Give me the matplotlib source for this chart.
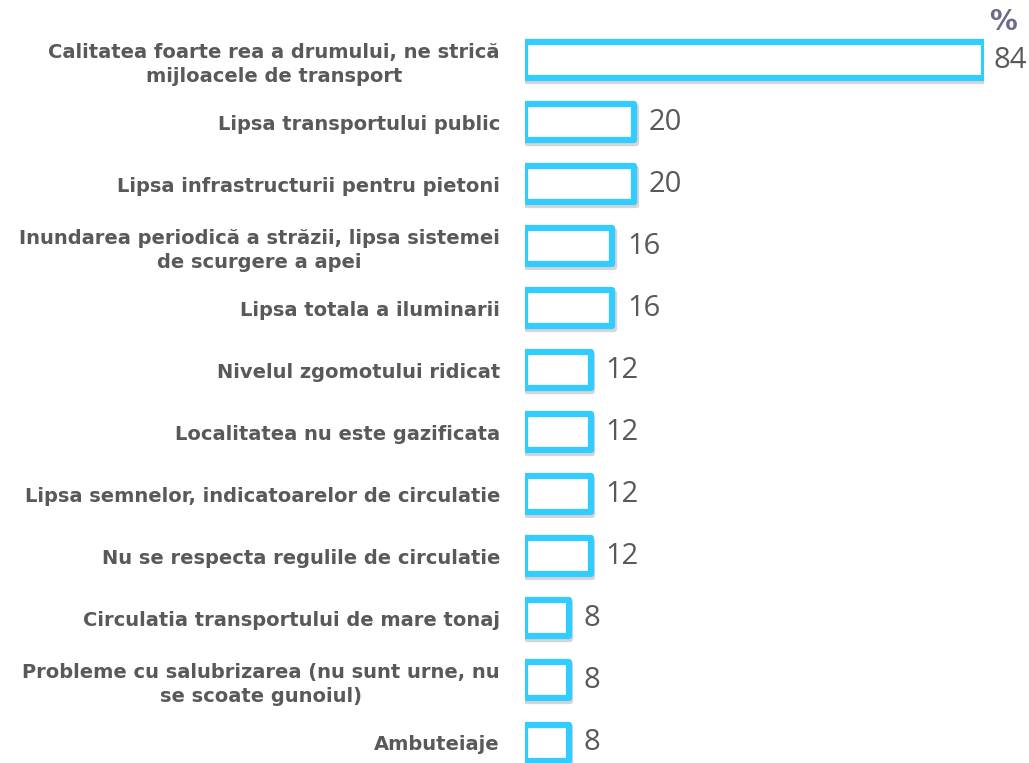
import matplotlib.pyplot as plt
import matplotlib.patheffects as pe

categories = [
    "Calitatea foarte rea a drumului, ne strică\nmijloacele de transport",
    "Lipsa transportului public",
    "Lipsa infrastructurii pentru pietoni",
    "Inundarea periodică a străzii, lipsa sistemei\nde scurgere a apei",
    "Lipsa totala a iluminarii",
    "Nivelul zgomotului ridicat",
    "Localitatea nu este gazificata",
    "Lipsa semnelor, indicatoarelor de circulatie",
    "Nu se respecta regulile de circulatie",
    "Circulatia transportului de mare tonaj",
    "Probleme cu salubrizarea (nu sunt urne, nu\nse scoate gunoiul)",
    "Ambuteiaje",
]
values = [84, 20, 20, 16, 16, 12, 12, 12, 12, 8, 8, 8]

cyan = "#33CCFF"
grey = "#595959"

fig = plt.figure(figsize=(10.29, 7.63), dpi=100)
ax = fig.add_axes([525 / 1029, 0.0, 459 / 1029, 0.962])

pos = list(range(len(values)))
bars = ax.barh(pos, values, height=0.58, color="white", edgecolor=cyan,
               linewidth=4.5, joinstyle="round", zorder=3)
# soft drop shadow under the outlined bars
for b in bars:
    b.set_path_effects([pe.Stroke(linewidth=4.5, foreground="#888888",
                                  alpha=0.35, offset=(1.2, -1.8)),
                        pe.Normal()])

ax.set_ylim(11.33, -0.5)
ax.set_xlim(0, 84)

for y, v in zip(pos, values):
    # the longest bar runs into the figure edge, so its label sits closer
    dx = 7 if v == max(values) else 10.5
    ax.annotate(str(v), (v, y), xytext=(dx, 0), textcoords="offset points",
                ha="left", va="center", fontsize=21, color=grey,
                family="Open Sans", clip_on=False)

ax.set_yticks(pos)
ax.set_yticklabels(categories, fontsize=14, fontweight="bold", color=grey,
                   multialignment="center", linespacing=1.3)
ax.tick_params(axis="y", length=0, pad=18)
ax.set_xticks([])
for s in ax.spines.values():
    s.set_visible(False)

fig.text(1003 / 1029, 1 - 22 / 763, "%", ha="center", va="center",
         fontsize=20, fontweight="bold", color="#6E6A8C")

fig.savefig("out.png", dpi=100)
